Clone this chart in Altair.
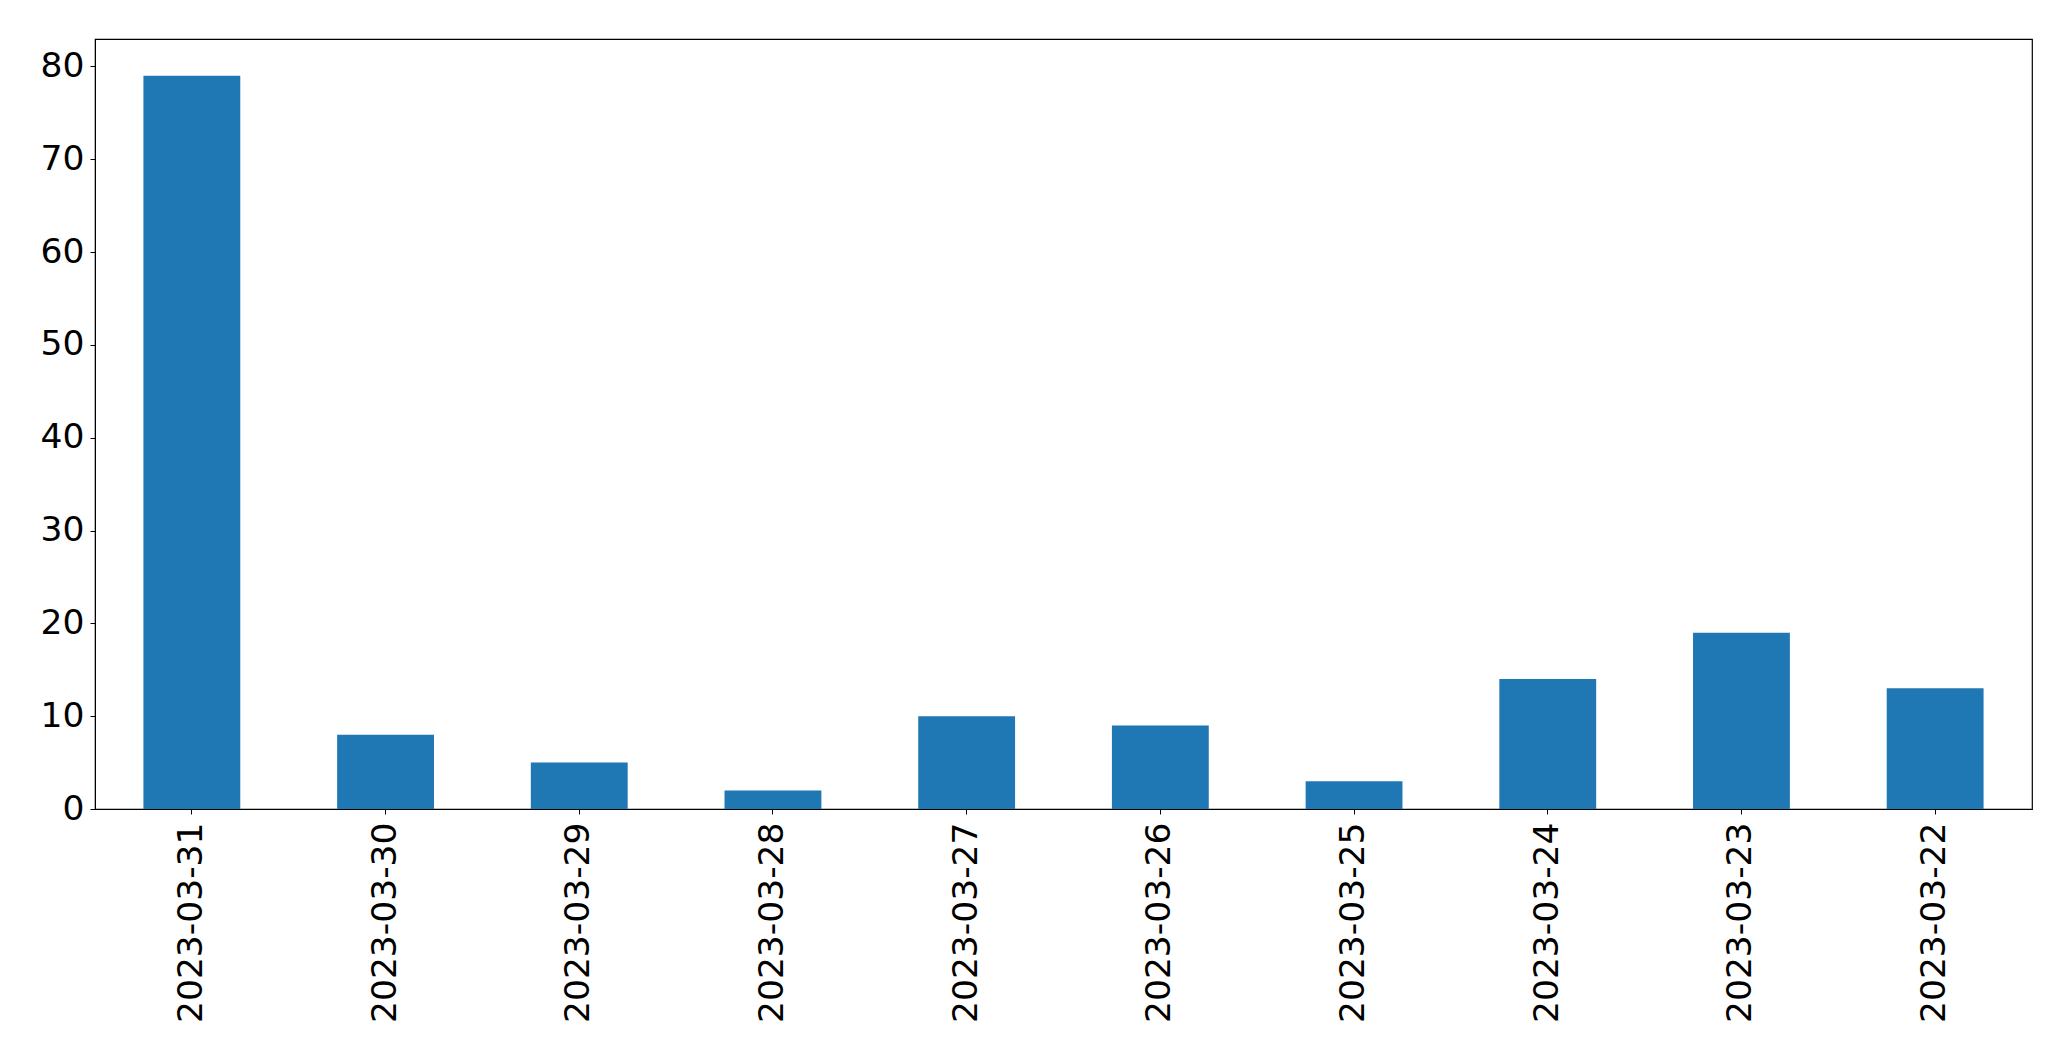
import altair as alt
import pandas as pd

dates = ["2023-03-31", "2023-03-30", "2023-03-29", "2023-03-28", "2023-03-27",
         "2023-03-26", "2023-03-25", "2023-03-24", "2023-03-23", "2023-03-22"]
counts = [79, 8, 5, 2, 10, 9, 3, 14, 19, 13]
y_ticks = [0, 10, 20, 30, 40, 50, 60, 70, 80]

df = pd.DataFrame({"date": dates, "count": counts})

chart = alt.Chart(df).mark_bar(color="#1f77b4").encode(
    x=alt.X("date:N", sort=dates, title=None,
            scale=alt.Scale(paddingInner=0.5, paddingOuter=0.25),
            axis=alt.Axis(labelAngle=270, labelFont="DejaVu Sans", labelFontSize=34.5,
                          labelColor="black", tickColor="black", tickSize=5, tickWidth=1,
                          domainColor="black", domainWidth=1, labelPadding=8, grid=False,
                          labelLimit=0)),
    y=alt.Y("count:Q", title=None,
            scale=alt.Scale(domain=[0, 82.95], nice=False, zero=True),
            axis=alt.Axis(values=y_ticks, labelFont="DejaVu Sans", labelFontSize=34.5,
                          labelColor="black", tickColor="black", tickSize=5, tickWidth=1,
                          domainColor="black", domainWidth=1, labelPadding=6, grid=False)),
).properties(
    width=1937, height=770,
    autosize=alt.AutoSizeParams(type="none"),
    padding={"left": 87, "top": 31, "right": 30, "bottom": 230},
    background="white",
).configure_view(stroke="black", strokeWidth=1.2)

chart.save("out.html", embed_options={"renderer": "svg", "actions": False})
